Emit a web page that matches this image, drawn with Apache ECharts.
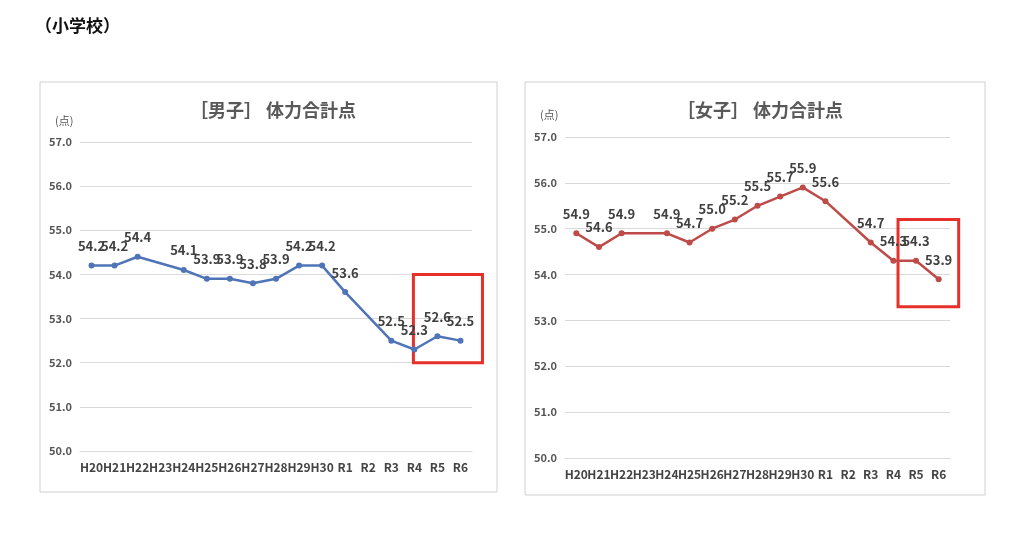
<!DOCTYPE html>
<html><head><meta charset="utf-8">
<script src="https://cdn.jsdelivr.net/npm/echarts@6/dist/echarts.min.js"></script>
<style>html,body{margin:0;background:#fff}#c{width:1024px;height:539px}</style>
</head><body><div id="c"></div>
<script>
const categories=['H20','H21','H22','H23','H24','H25','H26','H27','H28','H29','H30','R1','R2','R3','R4','R5','R6'];
const boys=[54.2,54.2,54.4,null,54.1,53.9,53.9,53.8,53.9,54.2,54.2,53.6,null,52.5,52.3,52.6,52.5];
const girls=[54.9,54.6,54.9,null,54.9,54.7,55.0,55.2,55.5,55.7,55.9,55.6,null,54.7,54.3,54.3,53.9];
const yTicks={min:50,max:57,interval:1};
const F='"Noto Sans CJK JP","Noto Sans",sans-serif';
const chart=echarts.init(document.getElementById('c'));
function xa(i){return {type:'category',gridIndex:i,data:categories,boundaryGap:true,
  axisLine:{lineStyle:{color:'#d9d9d9'}},axisTick:{show:false},
  axisLabel:{color:'#444',fontSize:12,fontWeight:'bold',fontFamily:F,interval:0,margin:10}};}
function ya(i){return {type:'value',gridIndex:i,min:yTicks.min,max:yTicks.max,interval:yTicks.interval,
  axisLabel:{formatter:v=>v.toFixed(1),color:'#555',fontSize:11,fontWeight:'bold',fontFamily:F},
  splitLine:{lineStyle:{color:'#d9d9d9'}},axisLine:{show:false}};}
function ser(i,d,c){return {type:'line',xAxisIndex:i,yAxisIndex:i,data:d,connectNulls:true,
  symbol:'circle',symbolSize:6,lineStyle:{color:c,width:2.5},itemStyle:{color:c},
  label:{show:true,position:'top',distance:10,formatter:p=>p.value.toFixed(1),color:'#404040',fontSize:13,fontWeight:'bold',fontFamily:F}};}
chart.setOption({
  animation:false,
  title:[
    {text:'（小学校）',left:30,top:12,textStyle:{fontSize:17,fontWeight:'bold',color:'#111',fontFamily:F}},
    {text:'［男子］ 体力合計点',left:268,top:96,textAlign:'center',textStyle:{fontSize:18,fontWeight:'bold',color:'#595959',fontFamily:F}},
    {text:'［女子］ 体力合計点',left:755,top:96,textAlign:'center',textStyle:{fontSize:18,fontWeight:'bold',color:'#595959',fontFamily:F}},
    {text:'(点)',left:50,top:110,textStyle:{fontSize:11,color:'#555',fontWeight:'normal',fontFamily:F}},
    {text:'(点)',left:535,top:104,textStyle:{fontSize:11,color:'#555',fontWeight:'normal',fontFamily:F}}
  ],
  grid:[{left:80,width:392,top:142,height:309},{left:565,width:385,top:137,height:321}],
  xAxis:[xa(0),xa(1)],yAxis:[ya(0),ya(1)],
  series:[ser(0,boys,'#4f74b8'),ser(1,girls,'#be4b48')]
});
const b1=chart.convertToPixel({xAxisIndex:0,yAxisIndex:0},['R5',54.0]);
const b2=chart.convertToPixel({xAxisIndex:0,yAxisIndex:0},['R6',52.0]);
const g1=chart.convertToPixel({xAxisIndex:1,yAxisIndex:1},['R5',55.2]);
const g2=chart.convertToPixel({xAxisIndex:1,yAxisIndex:1},['R6',53.3]);
chart.setOption({graphic:[
  {type:'rect',shape:{x:40,y:82,width:457,height:410},style:{fill:'none',stroke:'#d0d0d0',lineWidth:1}},
  {type:'rect',shape:{x:525,y:82,width:460,height:413},style:{fill:'none',stroke:'#d0d0d0',lineWidth:1}},
  {type:'rect',shape:{x:b1[0]-24,y:b1[1],width:b2[0]-b1[0]+46,height:b2[1]-b1[1]},style:{fill:'none',stroke:'#e8302a',lineWidth:3}},
  {type:'rect',shape:{x:g1[0]-18,y:g1[1],width:g2[0]-g1[0]+38,height:g2[1]-g1[1]},style:{fill:'none',stroke:'#e8302a',lineWidth:3}}
]});
</script></body></html>
